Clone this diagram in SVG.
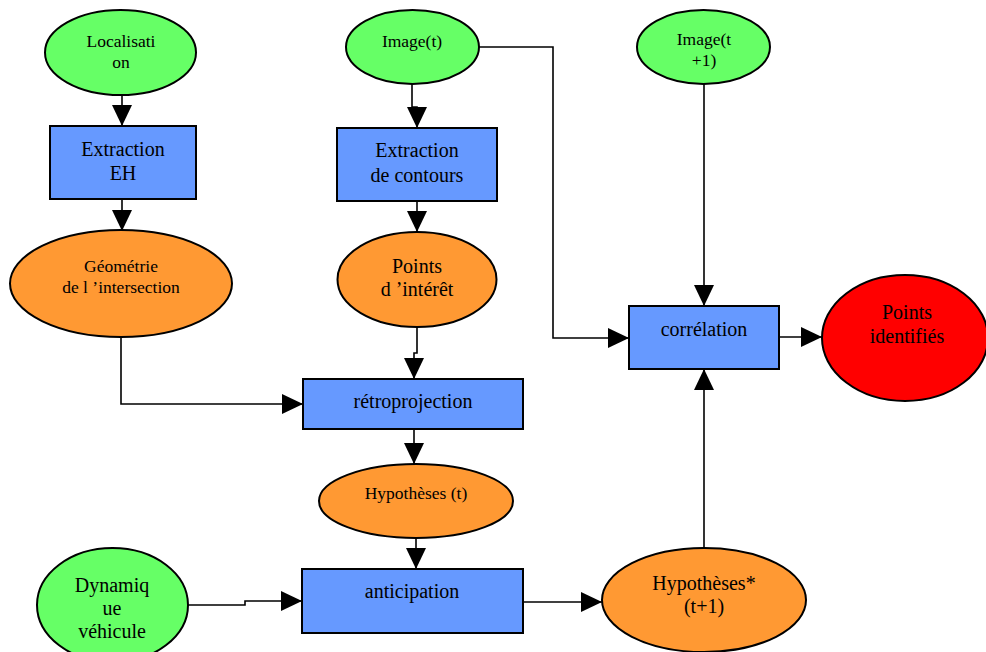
<svg xmlns="http://www.w3.org/2000/svg" width="986" height="652" viewBox="0 0 986 652">
<style>
.n{stroke:#000;stroke-width:2}
.g{fill:#66FF66}.o{fill:#FF9933}.b{fill:#6699FF}.r{fill:#FF0000}
text{font-family:"Liberation Serif","Times New Roman",serif;fill:#000;text-anchor:middle}
.s{font-size:17.5px}.l{font-size:20px}
.c path{fill:none;stroke:#000;stroke-width:1.6}
</style>
<defs>
<marker id="ah" markerUnits="userSpaceOnUse" markerWidth="21" markerHeight="20" refX="21" refY="10" orient="auto">
<path d="M0,0 L21,10 L0,20 z" fill="#000"/>
</marker>
</defs>
<g class="c">
<path d="M122,95 V126" marker-end="url(#ah)"/>
<path d="M122,199 V231" marker-end="url(#ah)"/>
<path d="M121,337 V404 H303" marker-end="url(#ah)"/>
<path d="M412,84 V107 H417 V128" marker-end="url(#ah)"/>
<path d="M479,47 H553 V338 H629" marker-end="url(#ah)"/>
<path d="M417,201 V232" marker-end="url(#ah)"/>
<path d="M417,327 V353 H414 V379" marker-end="url(#ah)"/>
<path d="M414,429 V464" marker-end="url(#ah)"/>
<path d="M416,538 V569" marker-end="url(#ah)"/>
<path d="M188,605 H245 V601 H302" marker-end="url(#ah)"/>
<path d="M523,602 H602" marker-end="url(#ah)"/>
<path d="M704,548 V369" marker-end="url(#ah)"/>
<path d="M704,84 V306" marker-end="url(#ah)"/>
<path d="M779,337 H822" marker-end="url(#ah)"/>
</g>
<g id="localisation"><ellipse class="n g" cx="120.5" cy="52.5" rx="75.5" ry="42.5"/><text class="s" x="121" y="47">Localisati</text><text class="s" x="121" y="68">on</text></g>
<g id="extraction-eh"><rect class="n b" x="50" y="126" width="146" height="73"/><text class="l" x="123" y="156">Extraction</text><text class="l" x="123" y="180">EH</text></g>
<g id="geometrie"><ellipse class="n o" cx="121" cy="283.5" rx="111" ry="53.5"/><text class="s" x="121" y="272">Géométrie</text><text class="s" x="121" y="293">de l ’intersection</text></g>
<g id="image-t"><ellipse class="n g" cx="412.5" cy="47" rx="66.5" ry="37"/><text class="s" x="412" y="47">Image(t)</text></g>
<g id="extraction-contours"><rect class="n b" x="337" y="128" width="160" height="73"/><text class="l" x="417" y="157">Extraction</text><text class="l" x="417" y="182">de contours</text></g>
<g id="points-interet"><ellipse class="n o" cx="417" cy="279.5" rx="79.5" ry="47.5"/><text class="l" x="417" y="273">Points</text><text class="l" x="417" y="296">d ’intérêt</text></g>
<g id="retroprojection"><rect class="n b" x="303" y="379" width="220" height="50"/><text class="l" x="413" y="408">rétroprojection</text></g>
<g id="hypotheses-t"><ellipse class="n o" cx="416" cy="501" rx="97" ry="37"/><text class="s" x="416" y="499">Hypothèses (t)</text></g>
<g id="anticipation"><rect class="n b" x="302" y="569" width="221" height="64"/><text class="l" x="412" y="598">anticipation</text></g>
<g id="dynamique"><ellipse class="n g" cx="112.5" cy="605" rx="75.5" ry="57"/><text class="l" x="112" y="592">Dynamiq</text><text class="l" x="112" y="615">ue</text><text class="l" x="112" y="638">véhicule</text></g>
<g id="hypotheses-t1"><ellipse class="n o" cx="704" cy="600" rx="102" ry="52"/><text class="l" x="704" y="590">Hypothèses*</text><text class="l" x="704" y="613">(t+1)</text></g>
<g id="image-t1"><ellipse class="n g" cx="703.5" cy="47" rx="66.5" ry="37"/><text class="s" x="704" y="45">Image(t</text><text class="s" x="704" y="66">+1)</text></g>
<g id="correlation"><rect class="n b" x="629" y="306" width="150" height="63"/><text class="l" x="704" y="336">corrélation</text></g>
<g id="points-identifies"><ellipse class="n r" cx="905" cy="338" rx="83" ry="63"/><text class="l" x="907" y="319">Points</text><text class="l" x="907" y="343">identifiés</text></g>
</svg>
